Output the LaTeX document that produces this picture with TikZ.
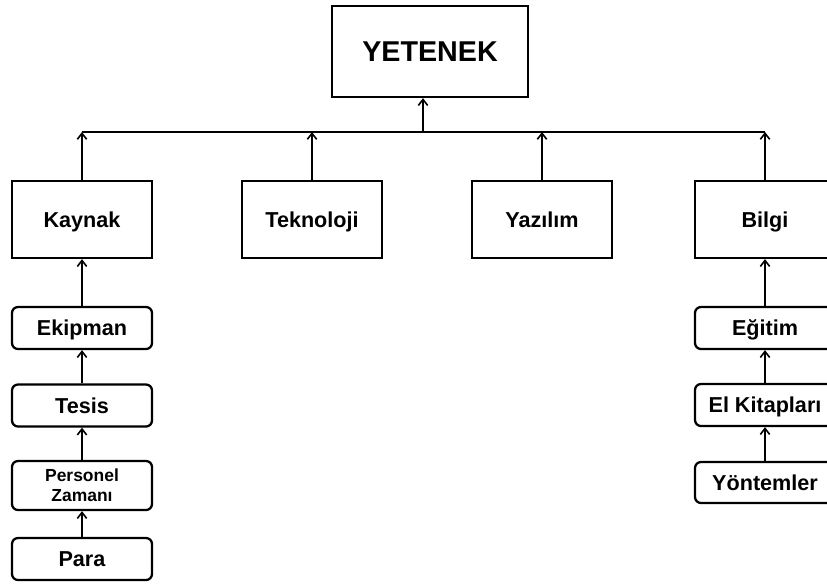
\documentclass[tikz,border=0pt]{standalone}
\usepackage{fontspec}
\setmainfont{Liberation Sans}
\usepackage{tikz}
\usetikzlibrary{arrows.meta,calc}

\begin{document}
\begin{tikzpicture}[x=0.75pt,y=-0.75pt,
  bigbox/.style={draw,line width=1.7pt,minimum width=105pt,minimum height=57.75pt,inner sep=0pt,text height=11.6pt,text depth=0pt,font=\bfseries\fontsize{16.2}{19}\selectfont},
  smallbox/.style={draw,line width=1.7pt,rounded corners=4.5pt,minimum width=105pt,minimum height=31.5pt,inner sep=0pt,align=center,text height=11.6pt,text depth=0pt,font=\bfseries\fontsize{16.2}{19}\selectfont},
  up/.style={-{Straight Barb[length=4.5pt,width=7pt,line width=1.2pt]},line width=1.2pt}]
  \clip (0,0) rectangle (827,583);
  \fill[white] (0,0) rectangle (827,583);

  \node[bigbox,minimum width=147pt,minimum height=68.25pt,text height=15.4pt,font=\bfseries\fontsize{21.5}{25}\selectfont] (yetenek) at (430,51.5) {YETENEK};

  \node[bigbox] (kaynak) at (82,219.5) {Kaynak};
  \node[bigbox] (teknoloji) at (312,219.5) {Teknoloji};
  \node[bigbox] (yazilim) at (542,219.5) {Yazılım};
  \node[bigbox] (bilgi) at (765,219.5) {Bilgi};

  \node[smallbox] (ekipman) at (82,328) {Ekipman};
  \node[smallbox] (tesis) at (82,405.5) {Tesis};
  \node[smallbox,minimum height=36.75pt,text height=,text depth=,font=\bfseries\fontsize{13.1}{15}\selectfont] (personel) at (82,485.5) {Personel\\Zamanı};
  \node[smallbox] (para) at (82,559) {Para};

  \node[smallbox] (egitim) at (765,328) {Eğitim};
  \node[smallbox] (elkitap) at (765,405) {El Kitapları};
  \node[smallbox,minimum height=30.75pt] (yontem) at (765,482.5) {Yöntemler};

  \coordinate (bus) at (423,132);
  \draw[line width=1.2pt] (kaynak.north |- bus) -- (bilgi.north |- bus);
  \draw[up] (bus) -- (bus |- yetenek.south);
  \foreach \n in {kaynak,teknoloji,yazilim,bilgi}
    \draw[up] (\n.north) -- (\n.north |- bus);

  \foreach \a/\b in {ekipman/kaynak,tesis/ekipman,personel/tesis,para/personel,egitim/bilgi,elkitap/egitim,yontem/elkitap}
    \draw[up] (\a) -- (\b);
\end{tikzpicture}
\end{document}
